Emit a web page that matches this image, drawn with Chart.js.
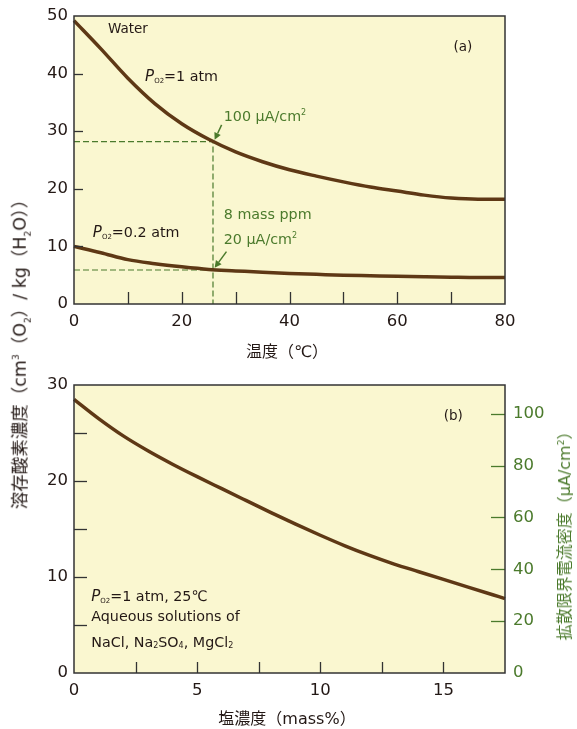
<!DOCTYPE html>
<html lang="ja">
<head>
<meta charset="utf-8">
<script src="https://cdn.jsdelivr.net/npm/chart.js@4/dist/chart.umd.min.js"></script>
<style>
    html, body { margin: 0; padding: 0; background: #fff; }
    #wrap { position: relative; width: 577px; height: 729px; overflow: hidden; }
    canvas { position: absolute; left: 0; }
    #chartTemp { top: 0; }
    #chartSalt { top: 365px; }
    .ttl {
        position: absolute; white-space: nowrap; color: #231815;
        font-family: "DejaVu Sans", "Noto Sans CJK JP", sans-serif; font-size: 16px;
        transform: translate(-50%, -50%);
    }
    .ttl.rot { transform: translate(-50%, -50%) rotate(-90deg); }
    .ttl.green { color: #4b7a2c; }
    .ttl sub, .ttl sup { font-size: 9px; }
</style>
</head>
<body>
<div id="wrap">
    <canvas id="chartTemp" width="577" height="365"></canvas>
    <canvas id="chartSalt" width="577" height="364"></canvas>
    <div class="ttl" style="left:287px;top:350px">温度（℃）</div>
    <div class="ttl" style="left:287px;top:717px">塩濃度（mass%）</div>
    <div class="ttl rot" style="left:19px;top:350px;font-size:17.5px">溶存酸素濃度（cm<sup>3</sup>（O<sub>2</sub>）/ kg（H<sub>2</sub>O））</div>
    <div class="ttl rot green" style="left:563px;top:532px">拡散限界電流密度（µA/cm<sup>2</sup>）</div>
</div>
<script>
    // (a) dissolved O2 vs temperature
    const TEMP = [0, 5, 10, 15, 20, 25, 30, 35, 40, 45, 50, 55, 60, 65, 70, 75, 80];
    const O2_1ATM = [49.2, 44.3, 39.2, 34.8, 31.3, 28.6, 26.4, 24.7, 23.3, 22.2, 21.2, 20.3, 19.6, 18.9, 18.4, 18.2, 18.2];
    const O2_02ATM = [10.0, 8.9, 7.7, 7.0, 6.45, 6.0, 5.75, 5.5, 5.3, 5.15, 5.0, 4.9, 4.8, 4.72, 4.65, 4.6, 4.6];
    const TEMP_MARK = 25.8;          // dashed guide, 25 °C
    const O2_MARK_HIGH = 28.2;       // 100 µA/cm²
    const O2_MARK_LOW = 5.9;         // 20 µA/cm² / 8 mass ppm
    const TEMP_TICKS = [10, 20, 30, 40, 50, 60, 70];
    const O2_TICKS_A = [10, 20, 30, 40];

    // (b) dissolved O2 vs salt concentration
    const SALT = [0, 1, 2, 3, 4, 5, 6, 7, 8, 9, 10, 11, 12, 13, 14, 15, 16, 17, 17.5];
    const O2_SALT = [28.5, 26.5, 24.7, 23.15, 21.75, 20.45, 19.2, 17.95, 16.7, 15.5, 14.35, 13.25, 12.25, 11.35, 10.55, 9.75, 8.95, 8.15, 7.75];
    const SALT_TICKS = [2.5, 5, 7.5, 10, 12.5, 15];
    const O2_TICKS_B = [5, 10, 15, 20, 25];
    const CURRENT_TICKS = [20, 40, 60, 80, 100];
    const CURRENT_MAX = 111.1;

    const PLOT_BG = '#faf7d0';
    const CURVE = '#5e3815';
    const GREEN = '#4b7a2c';
    const INK = '#231815';
    const FONT = '"DejaVu Sans", "Noto Sans CJK JP", sans-serif';

    const xy = (xs, ys) => xs.map((x, i) => ({ x: x, y: ys[i] }));

    function drawRuns(ctx, x, y, runs, size, color, align) {
        ctx.save();
        ctx.fillStyle = color;
        ctx.textBaseline = 'middle';
        ctx.textAlign = 'left';
        const fontOf = r => (r.italic ? 'italic ' : '') + (r.size || size) + 'px ' + FONT;
        let w = 0;
        runs.forEach(r => { ctx.font = fontOf(r); w += ctx.measureText(r.t).width; });
        let cx = align === 'center' ? x - w / 2 : x;
        runs.forEach(r => {
            ctx.font = fontOf(r);
            ctx.fillText(r.t, cx, y + (r.dy || 0));
            cx += ctx.measureText(r.t).width;
        });
        ctx.restore();
    }

    function drawArrow(ctx, x1, y1, x2, y2, color) {
        const a = Math.atan2(y2 - y1, x2 - x1);
        const hl = 7, hw = 3.5;
        ctx.save();
        ctx.strokeStyle = color;
        ctx.fillStyle = color;
        ctx.lineWidth = 1.5;
        ctx.beginPath();
        ctx.moveTo(x1, y1);
        ctx.lineTo(x2 - Math.cos(a) * hl, y2 - Math.sin(a) * hl);
        ctx.stroke();
        ctx.beginPath();
        ctx.moveTo(x2, y2);
        ctx.lineTo(x2 - Math.cos(a) * hl - Math.sin(a) * hw, y2 - Math.sin(a) * hl + Math.cos(a) * hw);
        ctx.lineTo(x2 - Math.cos(a) * hl + Math.sin(a) * hw, y2 - Math.sin(a) * hl - Math.cos(a) * hw);
        ctx.closePath();
        ctx.fill();
        ctx.restore();
    }

    // plot background, inner tick marks, frame, annotations
    const panelPlugin = {
        id: 'panel',
        beforeDraw(chart) {
            const a = chart.chartArea, ctx = chart.ctx;
            ctx.save();
            ctx.fillStyle = PLOT_BG;
            ctx.fillRect(a.left, a.top, a.right - a.left, a.bottom - a.top);
            ctx.restore();
        },
        afterDatasetsDraw(chart, args, opts) {
            const a = chart.chartArea, ctx = chart.ctx;
            ctx.save();
            (opts.ticks || []).forEach(t => {
                const sc = chart.scales[t.axis];
                ctx.strokeStyle = t.color || '#333';
                ctx.lineWidth = 1.3;
                t.values.forEach(v => {
                    const p = Math.round(sc.getPixelForValue(v)) + 0.5;
                    ctx.beginPath();
                    if (t.axis === 'x') {
                        ctx.moveTo(p, a.bottom);
                        ctx.lineTo(p, a.bottom - t.len);
                    } else if (t.axis === 'y2') {
                        ctx.moveTo(a.right, p);
                        ctx.lineTo(a.right - t.len, p);
                    } else {
                        ctx.moveTo(a.left, p);
                        ctx.lineTo(a.left + t.len, p);
                    }
                    ctx.stroke();
                });
            });
            ctx.strokeStyle = '#333';
            ctx.lineWidth = 1.5;
            ctx.strokeRect(a.left, a.top, a.right - a.left, a.bottom - a.top);
            ctx.restore();

            const sx = chart.scales.x, sy = chart.scales.y;
            (opts.arrows || []).forEach(ar => {
                drawArrow(ctx, sx.getPixelForValue(ar.from[0]), sy.getPixelForValue(ar.from[1]),
                    sx.getPixelForValue(ar.to[0]), sy.getPixelForValue(ar.to[1]), GREEN);
            });
            (opts.labels || []).forEach(l => {
                drawRuns(ctx, sx.getPixelForValue(l.x), sy.getPixelForValue(l.y), l.runs,
                    l.size || 14.3, l.color || INK, l.align);
            });
        }
    };

    const tickFont = { family: FONT, size: 16.5 };

    function baseScale(min, max, step, extra) {
        return Object.assign({
            type: 'linear', min: min, max: max,
            grid: { display: false, drawTicks: false },
            border: { display: false },
            ticks: { stepSize: step, color: INK, font: tickFont },
            afterBuildTicks: s => { s.ticks = s.ticks.filter(t => Math.abs(t.value / step - Math.round(t.value / step)) < 1e-6); }
        }, extra);
    }

    const PO2 = [{ t: 'P', italic: true, size: 15 }, { t: 'O2', size: 7, dy: 4 }];

    new Chart(document.getElementById('chartTemp'), {
        type: 'line',
        data: {
            datasets: [
                { data: xy(TEMP, O2_1ATM), borderColor: CURVE, borderWidth: 3.5, pointRadius: 0, cubicInterpolationMode: 'monotone', clip: false },
                { data: xy(TEMP, O2_02ATM), borderColor: CURVE, borderWidth: 3.5, pointRadius: 0, cubicInterpolationMode: 'monotone', clip: false },
                { data: [{ x: 0, y: O2_MARK_HIGH }, { x: TEMP_MARK, y: O2_MARK_HIGH }, { x: TEMP_MARK, y: 0 }],
                  borderColor: GREEN, borderWidth: 1.2, borderDash: [6, 3], pointRadius: 0, tension: 0, order: 5 },
                { data: [{ x: 0, y: O2_MARK_LOW }, { x: TEMP_MARK, y: O2_MARK_LOW }],
                  borderColor: GREEN, borderWidth: 1.2, borderDash: [6, 3], pointRadius: 0, tension: 0, order: 5 }
            ]
        },
        options: {
            responsive: false,
            animation: false,
            events: [],
            layout: { padding: { top: 16, right: 72, left: 0, bottom: 0 } },
            plugins: {
                legend: { display: false },
                tooltip: { enabled: false },
                panel: {
                    ticks: [
                        { axis: 'x', values: TEMP_TICKS, len: 12 },
                        { axis: 'y', values: O2_TICKS_A, len: 9 }
                    ],
                    arrows: [
                        { from: [27.4, 31.1], to: [26.1, 28.5] },
                        { from: [28.3, 9.1], to: [26.1, 6.3] }
                    ],
                    labels: [
                        { x: 6.3, y: 47.6, runs: [{ t: 'Water' }], size: 13.5 },
                        { x: 13.2, y: 39.4, runs: PO2.concat([{ t: '=1 atm' }]) },
                        { x: 3.5, y: 12.3, runs: PO2.concat([{ t: '=0.2 atm' }]) },
                        { x: 27.8, y: 32.5, runs: [{ t: '100 µA/cm' }, { t: '2', size: 8, dy: -4 }], color: GREEN },
                        { x: 27.8, y: 15.45, runs: [{ t: '8 mass ppm' }], color: GREEN },
                        { x: 27.8, y: 11.1, runs: [{ t: '20 µA/cm' }, { t: '2', size: 8, dy: -4 }], color: GREEN },
                        { x: 72.2, y: 44.6, runs: [{ t: '(a)' }], size: 13.5, align: 'center' }
                    ]
                }
            },
            scales: {
                x: baseScale(0, 80, 20, { afterFit: s => { s.height = 61; }, ticks: { stepSize: 20, padding: 8, color: INK, font: tickFont } }),
                y: baseScale(0, 50, 10, { afterFit: s => { s.width = 74; }, ticks: { stepSize: 10, padding: 6, color: INK, font: tickFont } })
            }
        },
        plugins: [panelPlugin]
    });

    new Chart(document.getElementById('chartSalt'), {
        type: 'line',
        data: {
            datasets: [
                { data: xy(SALT, O2_SALT), borderColor: CURVE, borderWidth: 3.5, pointRadius: 0, cubicInterpolationMode: 'monotone', clip: false }
            ]
        },
        options: {
            responsive: false,
            animation: false,
            events: [],
            layout: { padding: { top: 20, right: 0, left: 0, bottom: 0 } },
            plugins: {
                legend: { display: false },
                tooltip: { enabled: false },
                panel: {
                    ticks: [
                        { axis: 'x', values: SALT_TICKS, len: 11 },
                        { axis: 'y', values: O2_TICKS_B, len: 13 },
                        { axis: 'y2', values: CURRENT_TICKS, len: 14, color: GREEN }
                    ],
                    labels: [
                        { x: 15.4, y: 26.7, runs: [{ t: '(b)' }], size: 13.5, align: 'center' },
                        { x: 0.7, y: 7.9, runs: PO2.concat([{ t: '=1 atm, 25℃' }]) },
                        { x: 0.7, y: 5.76, runs: [{ t: 'Aqueous solutions of' }] },
                        { x: 0.7, y: 3.1, runs: [{ t: 'NaCl, Na' }, { t: '2', size: 8, dy: 3 }, { t: 'SO' }, { t: '4', size: 8, dy: 3 },
                            { t: ', MgCl' }, { t: '2', size: 8, dy: 3 }] }
                    ]
                }
            },
            scales: {
                x: baseScale(0, 17.5, 5, { afterFit: s => { s.height = 56; }, ticks: { stepSize: 5, padding: 8, color: INK, font: tickFont } }),
                y: baseScale(0, 30, 10, { afterFit: s => { s.width = 74; }, ticks: { stepSize: 10, padding: 6, color: INK, font: tickFont } }),
                y2: baseScale(0, CURRENT_MAX, 20, {
                    position: 'right',
                    afterFit: s => { s.width = 72; },
                    ticks: { stepSize: 20, padding: 8, color: GREEN, font: tickFont }
                })
            }
        },
        plugins: [panelPlugin]
    });
</script>
</body>
</html>
